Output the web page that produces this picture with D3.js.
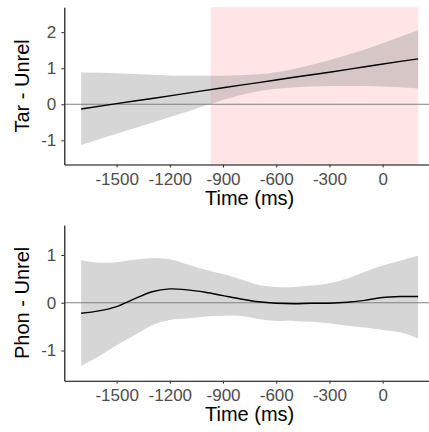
<!DOCTYPE html>
<html>
  <head>
    <meta charset="utf-8">
    <script src="https://d3js.org/d3.v7.min.js"></script>
    <title>Difference curves over time</title>
    <style>
      body {
        margin: 0px;
        background: white;
      }
      .tick line {
        stroke: #333333;
      }
      .domain {
        stroke: #000000;
      }
      .tick text {
        fill: #4d4d4d;
        font-size: 17px;
        font-family: 'Liberation Sans', Arial, sans-serif;
      }
      .axis-label {
        fill: #000000;
        font-size: 20px;
        font-family: 'Liberation Sans', Arial, sans-serif;
      }
    </style>
  </head>
  <body>
    <svg width="429" height="432"></svg>
    <script>
      // top panel: linear fit with confidence band (ms, difference)
      const tarTime  = [-1700, -1500, -1300, -1100, -900, -700, -500, -300, -100, 100, 200];
      const tarFit   = [-0.13, 0.02, 0.16, 0.31, 0.46, 0.60, 0.75, 0.89, 1.04, 1.19, 1.26];
      const tarUpper = [0.88, 0.86, 0.82, 0.79, 0.79, 0.83, 0.98, 1.23, 1.52, 1.87, 2.06];
      const tarLower = [-1.13, -0.82, -0.51, -0.20, 0.12, 0.36, 0.47, 0.51, 0.51, 0.47, 0.44];

      // bottom panel: smooth fit with confidence band
      const phonTime  = [-1700, -1600, -1500, -1400, -1300, -1200, -1100, -1000, -900, -800,
                         -700, -600, -500, -400, -300, -200, -100, 0, 100, 200];
      const phonFit   = [-0.22, -0.17, -0.08, 0.08, 0.23, 0.29, 0.27, 0.22, 0.15, 0.08,
                         0.02, -0.01, -0.02, -0.01, -0.01, 0.01, 0.05, 0.11, 0.13, 0.13];
      const phonUpper = [0.89, 0.84, 0.85, 0.90, 0.93, 0.91, 0.80, 0.69, 0.60, 0.49,
                         0.37, 0.33, 0.33, 0.36, 0.41, 0.51, 0.65, 0.78, 0.88, 0.99];
      const phonLower = [-1.32, -1.12, -0.89, -0.68, -0.47, -0.36, -0.33, -0.29, -0.27, -0.28,
                         -0.34, -0.38, -0.38, -0.40, -0.43, -0.48, -0.52, -0.57, -0.62, -0.75];

      const xTicks = [-1500, -1200, -900, -600, -300, 0];
      const tarTicks = [-1, 0, 1, 2];
      const phonTicks = [-1, 0, 1];
      const shadeWindow = [-970, 200];   // highlighted time window, top panel only
      const xLabel = 'Time (ms)';

      const svg = d3.select('svg');

      const xScale = d3.scaleLinear()
        .domain([-1795, 295])
        .range([64.3, 435]);

      const panels = [
        { label: 'Tar - Unrel', time: tarTime, fit: tarFit, upper: tarUpper, lower: tarLower,
          yDomain: [-1.67, 2.69], top: 7.3, bottom: 164.5, ticks: tarTicks, shade: shadeWindow },
        { label: 'Phon - Unrel', time: phonTime, fit: phonFit, upper: phonUpper, lower: phonLower,
          yDomain: [-1.633, 1.629], top: 225, bottom: 380.7, ticks: phonTicks, shade: null }
      ];

      panels.forEach(p => {
        const yScale = d3.scaleLinear()
          .domain(p.yDomain)
          .range([p.bottom, p.top]);

        const g = svg.append('g');
        const rows = p.time.map((t, i) => ({ t: t, fit: p.fit[i], hi: p.upper[i], lo: p.lower[i] }));

        if (p.shade) {
          g.append('rect')
            .attr('x', xScale(p.shade[0]))
            .attr('width', xScale(p.shade[1]) - xScale(p.shade[0]))
            .attr('y', p.top)
            .attr('height', p.bottom - p.top)
            .attr('fill', 'red')
            .attr('fill-opacity', 0.1);
        }

        const curve = p.shade ? d3.curveMonotoneX : d3.curveCatmullRom;

        const band = d3.area()
          .x(d => xScale(d.t))
          .y0(d => yScale(d.lo))
          .y1(d => yScale(d.hi))
          .curve(curve);

        g.append('path')
          .datum(rows)
          .attr('d', band)
          .attr('fill', '#999999')
          .attr('fill-opacity', 0.4);

        // zero reference
        g.append('line')
          .attr('x1', xScale.range()[0])
          .attr('x2', xScale.range()[1])
          .attr('y1', yScale(0))
          .attr('y2', yScale(0))
          .attr('stroke', '#808080')
          .attr('stroke-width', 1.1);

        const fitLine = d3.line()
          .x(d => xScale(d.t))
          .y(d => yScale(d.fit))
          .curve(curve);

        g.append('path')
          .datum(rows)
          .attr('d', fitLine)
          .attr('fill', 'none')
          .attr('stroke', '#000000')
          .attr('stroke-width', 1.4);

        const xAxis = d3.axisBottom(xScale)
          .tickValues(xTicks)
          .tickSizeInner(3)
          .tickSizeOuter(0)
          .tickPadding(5);

        const yAxis = d3.axisLeft(yScale)
          .tickValues(p.ticks)
          .tickSizeInner(3)
          .tickSizeOuter(0)
          .tickPadding(5);

        const xAxisG = g.append('g')
          .attr('transform', `translate(0, ${p.bottom})`)
          .call(xAxis);
        const yAxisG = g.append('g')
          .attr('transform', `translate(${xScale.range()[0]}, 0)`)
          .call(yAxis);

        xAxisG.selectAll('.tick text').text(d => d3.format('d')(d).replace('−', '-'));
        yAxisG.selectAll('.tick text').text(d => String(d));
        xAxisG.select('.domain').attr('stroke-width', 1.1);
        yAxisG.select('.domain').attr('stroke-width', 1.1);

        g.append('text')
          .attr('class', 'axis-label')
          .attr('x', (xScale.range()[0] + xScale.range()[1]) / 2)
          .attr('y', p.bottom + 40.5)
          .style('text-anchor', 'middle')
          .text(xLabel);

        g.append('text')
          .attr('class', 'axis-label')
          .attr('transform', `translate(29, ${(p.top + p.bottom) / 2}) rotate(-90)`)
          .style('text-anchor', 'middle')
          .text(p.label);
      });
    </script>
  </body>
</html>
